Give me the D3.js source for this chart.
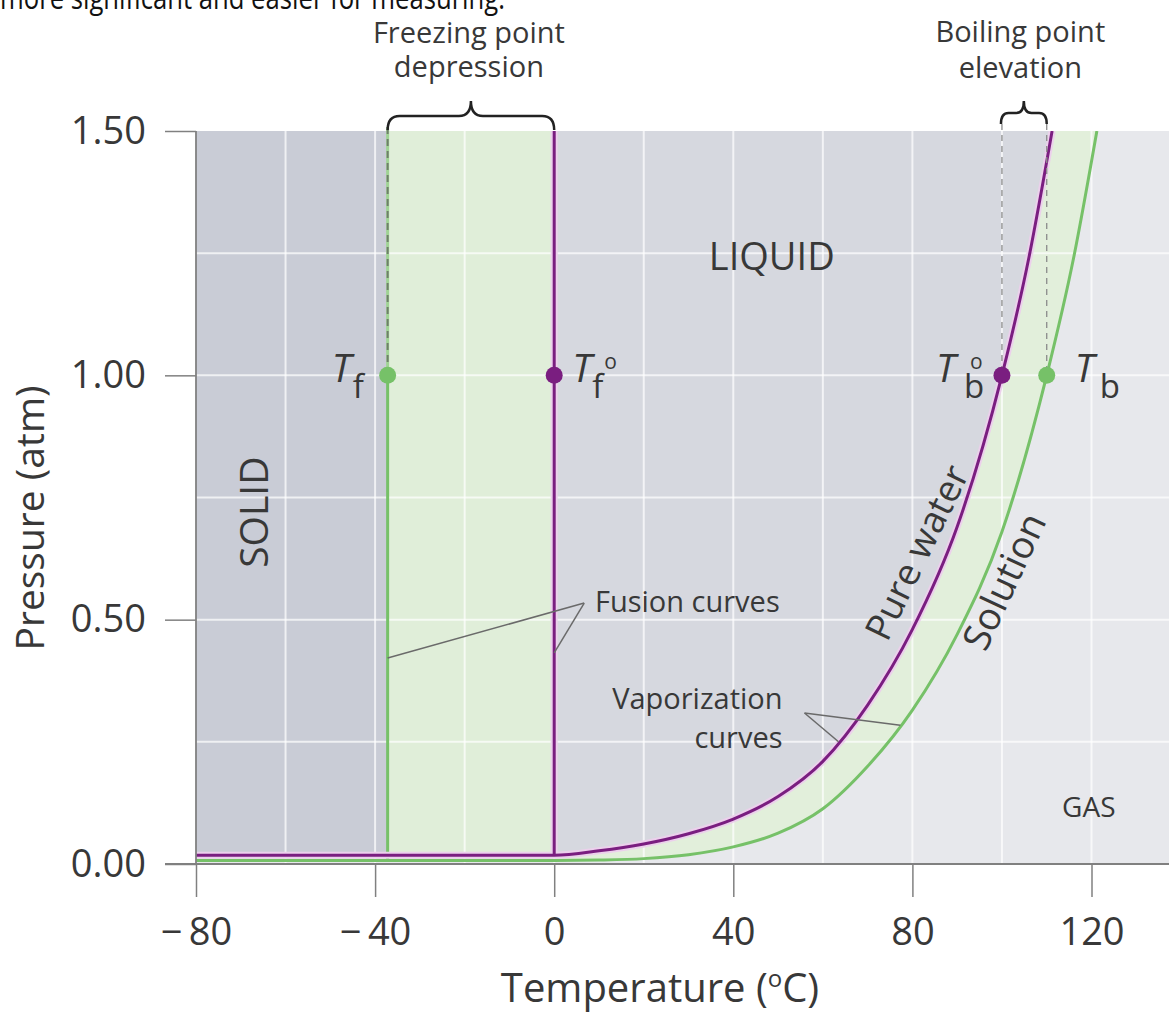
<!DOCTYPE html>
<html><head><meta charset="utf-8">
<script src="https://cdnjs.cloudflare.com/ajax/libs/d3/7.8.5/d3.min.js"></script>
<style>
html,body{margin:0;padding:0;background:#fff;overflow:hidden;}
svg{display:block;}
text{font-family:"Open Sans",sans-serif;fill:#383838;}
</style></head><body>
<svg id="chart" width="1169" height="1014"></svg>
<script>
// ---------- data ----------
const pureT = [-80, 0, 10, 20, 30, 40, 50, 60, 70, 80, 90, 100, 106, 111.2];
const pureP = [0.018, 0.018, 0.027, 0.041, 0.062, 0.092, 0.138, 0.21, 0.325, 0.48, 0.69, 1.0, 1.24, 1.5];
const solT  = [-80, 0, 10, 20, 30, 40, 50, 60, 70, 80, 90, 100, 110, 116, 121.2];
const solP  = [0.007, 0.007, 0.008, 0.011, 0.019, 0.035, 0.063, 0.113, 0.2, 0.315, 0.47, 0.68, 1.0, 1.24, 1.5];
const freezePure = 0;      // Tf°
const freezeSol = -37.2;   // Tf
const boilPure = 100;      // Tb°
const boilSol = 110;       // Tb
const refPressure = 1.0;
const xTicks = [-80, -40, 0, 40, 80, 120];
const yTicks = [0, 0.5, 1.0, 1.5];
const xGrid = [-60, -40, -20, 0, 20, 40, 60, 80, 100, 120];
const yGrid = [0.25, 0.5, 0.75, 1.0, 1.25];

// ---------- setup ----------
const W = 1169, H = 1014;
const svg = d3.select("#chart");
const x = d3.scaleLinear().domain([-80, 120]).range([196, 1091.5]);
const y = d3.scaleLinear().domain([0, 1.5]).range([864, 131]);
const tMin = -80, pMax = 1.5;

const pure = pureT.map((t, i) => ({t, p: pureP[i]}));
const sol = solT.map((t, i) => ({t, p: solP[i]}));
const pureAt = d3.scaleLinear().domain(pureT).range(pureP);
const solAt = d3.scaleLinear().domain(solT).range(solP);

const defs = svg.append("defs");
defs.append("clipPath").attr("id", "plot").append("rect")
  .attr("x", x(tMin)).attr("y", y(pMax)).attr("width", W - x(tMin)).attr("height", y(0) - y(pMax));

const plot = svg.append("g").attr("clip-path", "url(#plot)");

// gas background
plot.append("rect").attr("x", x(tMin)).attr("y", y(pMax))
  .attr("width", W - x(tMin)).attr("height", y(0) - y(pMax)).attr("fill", "#e7e8ec");

const curve = d3.curveMonotoneX;
const areaAbove = d3.area().x(d => x(d.t)).y0(y(pMax)).y1(d => y(d.p)).curve(curve);
plot.append("path").datum(sol).attr("d", areaAbove).attr("fill", "#e2efdb");
plot.append("path").datum(pure).attr("d", areaAbove).attr("fill", "#d6d8df");
plot.append("rect").attr("x", x(tMin)).attr("y", y(pMax))
  .attr("width", x(freezeSol) - x(tMin)).attr("height", y(pureP[0]) - y(pMax)).attr("fill", "#c9ccd6");
plot.append("rect").attr("x", x(freezeSol)).attr("y", y(pMax))
  .attr("width", x(freezePure) - x(freezeSol)).attr("height", y(pureP[0]) - y(pMax)).attr("fill", "#e0eed9");

// grid
plot.append("g").selectAll("line").data(xGrid).join("line")
  .attr("x1", d => x(d)).attr("x2", d => x(d)).attr("y1", y(pMax)).attr("y2", y(0))
  .attr("stroke", "#fff").attr("stroke-opacity", 0.7).attr("stroke-width", 2);
plot.append("g").selectAll("line").data(yGrid).join("line")
  .attr("x1", x(tMin)).attr("x2", W).attr("y1", d => y(d)).attr("y2", d => y(d))
  .attr("stroke", "#fff").attr("stroke-opacity", 0.7).attr("stroke-width", 2);

const line = d3.line().x(d => x(d.t)).y(d => y(d.p)).curve(curve);
const purple = "#7a1e80", green = "#76c168";

// solution curves (green)
plot.append("path").datum(sol).attr("d", line).attr("fill", "none").attr("stroke", green).attr("stroke-width", 3);
plot.append("line").attr("x1", x(freezeSol)).attr("x2", x(freezeSol))
  .attr("y1", y(solP[0])).attr("y2", y(refPressure)).attr("stroke", green).attr("stroke-width", 3);
svg.append("line").attr("x1", x(freezeSol)).attr("x2", x(freezeSol))
  .attr("y1", y(pMax) - 4).attr("y2", y(refPressure)).attr("stroke", "#9fd394").attr("stroke-width", 3);
svg.append("line").attr("x1", x(freezeSol)).attr("x2", x(freezeSol))
  .attr("y1", y(pMax) - 4).attr("y2", y(refPressure)).attr("stroke", "#6e7f69").attr("stroke-width", 2)
  .attr("stroke-dasharray", "7,5");

// pure water curves (purple) with halo
const pureFusion = [{t: freezePure, p: pureP[0]}, {t: freezePure, p: pMax}];
const straight = d3.line().x(d => x(d.t)).y(d => y(d.p));
[["#ecd0ec", 7], [purple, 3]].forEach(([c, w]) => {
  plot.append("path").datum(pure).attr("d", line).attr("fill", "none").attr("stroke", c).attr("stroke-width", w);
  plot.append("path").datum(pureFusion).attr("d", straight).attr("fill", "none").attr("stroke", c).attr("stroke-width", w);
});

// boiling-point dashed guides
[boilPure, boilSol].forEach(t => {
  svg.append("line").attr("x1", x(t)).attr("x2", x(t)).attr("y1", 124).attr("y2", y(refPressure))
    .attr("stroke", "#8a8a8a").attr("stroke-width", 1.3).attr("stroke-dasharray", "6,5");
});

// points
[[freezeSol, green], [freezePure, purple], [boilPure, purple], [boilSol, green]].forEach(([t, c]) => {
  svg.append("circle").attr("cx", x(t)).attr("cy", y(refPressure)).attr("r", 8.5).attr("fill", c);
});

// ---------- axes ----------
const axisColor = "#808080";
const gx = svg.append("g").attr("transform", `translate(0,${y(0)})`)
  .call(d3.axisBottom(x).tickValues(xTicks).tickSize(33).tickPadding(21)
    .tickFormat(d => d < 0 ? "\u2212\u2009" + Math.abs(d) : String(d)));
gx.select(".domain").remove();
gx.selectAll("line").attr("stroke", axisColor).attr("stroke-width", 1.5);
gx.selectAll("text").attr("font-size", 38);

const gy = svg.append("g").attr("transform", `translate(${x(tMin)},0)`)
  .call(d3.axisLeft(y).tickValues(yTicks).tickSize(31).tickPadding(19).tickFormat(d3.format(".2f")));
gy.select(".domain").remove();
gy.selectAll("line").attr("stroke", axisColor).attr("stroke-width", 1.5);
gy.selectAll("text").attr("font-size", 38);

svg.append("line").attr("x1", x(tMin) - 31).attr("x2", W).attr("y1", y(0)).attr("y2", y(0))
  .attr("stroke", axisColor).attr("stroke-width", 1.8);
svg.append("line").attr("x1", x(tMin)).attr("x2", x(tMin)).attr("y1", y(pMax)).attr("y2", y(0))
  .attr("stroke", axisColor).attr("stroke-width", 1.8);

// axis titles
const xt = svg.append("text").attr("x", 660).attr("y", 1002).attr("text-anchor", "middle").attr("font-size", 40);
xt.append("tspan").text("Temperature (");
xt.append("tspan").text("o").attr("font-size", 24).attr("dy", -15);
xt.append("tspan").text("C)").attr("dy", 15);

svg.append("text").attr("transform", "translate(44,518) rotate(-90)").attr("text-anchor", "middle")
  .attr("font-size", 39).text("Pressure (atm)");

// ---------- annotations ----------
const txt = (tx, ty, s, size, anchor = "start") =>
  svg.append("text").attr("x", tx).attr("y", ty).attr("font-size", size).attr("text-anchor", anchor).text(s);

// cropped page text at the very top
svg.append("text").attr("x", 0).attr("y", 9).attr("font-size", 31)
  .attr("textLength", 505).attr("lengthAdjust", "spacingAndGlyphs")
  .style("fill", "#111").text("more significant and easier for measuring.");

// header labels
const fMid = (x(freezeSol) + x(freezePure)) / 2 - 2, bMid = (x(boilPure) + x(boilSol)) / 2 - 4;
txt(fMid, 43, "Freezing point", 29, "middle");
txt(fMid, 77, "depression", 29, "middle");
txt(bMid, 42, "Boiling point", 29, "middle");
txt(bMid, 78, "elevation", 29, "middle");

// braces
function brace(x1, x2, yTop, yArm, yEnd) {
  const m = (x1 + x2) / 2, r = Math.min(12, (x2 - x1) / 6);
  return `M${x1},${yEnd} Q${x1},${yArm} ${x1 + r},${yArm} L${m - r},${yArm} Q${m},${yArm} ${m},${yTop}` +
         ` Q${m},${yArm} ${m + r},${yArm} L${x2 - r},${yArm} Q${x2},${yArm} ${x2},${yEnd}`;
}
svg.append("path").attr("d", brace(x(freezeSol), x(freezePure), 101, 116, 130))
  .attr("fill", "none").attr("stroke", "#222").attr("stroke-width", 2.5);
svg.append("path").attr("d", brace(x(boilPure) - 1, x(boilSol), 101, 113, 124))
  .attr("fill", "none").attr("stroke", "#222").attr("stroke-width", 2.5);

// region labels
txt(x(48.6), y(1.2155), "LIQUID", 38, "middle");
svg.append("text").attr("transform", `translate(${x(-64)},${y(0.72)}) rotate(-90)`)
  .attr("text-anchor", "middle").attr("font-size", 39).text("SOLID");
txt(x(119.4), y(0.096), "GAS", 28, "middle");

// curve labels
svg.append("text").attr("transform", `translate(${x(83.6)},${y(0.626)}) rotate(-64)`)
  .attr("text-anchor", "middle").attr("font-size", 37).text("Pure water");
svg.append("text").attr("transform", `translate(${x(103.2)},${y(0.567)}) rotate(-65)`)
  .attr("text-anchor", "middle").attr("font-size", 38).text("Solution");

// T labels
const yRef = y(refPressure);
function tLabel(cx, dxT, sub, dxS, sup, dxO) {
  svg.append("text").attr("x", cx + dxT).attr("y", yRef + 7).attr("font-size", 39)
    .attr("font-style", "italic").text("T");
  svg.append("text").attr("x", cx + dxS).attr("y", yRef + 23).attr("font-size", 33).text(sub);
  if (sup) svg.append("text").attr("x", cx + dxO).attr("y", yRef - 6).attr("font-size", 21).text("o");
}
tLabel(x(freezeSol), -56, "f", -35, false, 0);
tLabel(x(freezePure), 18, "f", 38, true, 50);
tLabel(x(boilPure), -66, "b", -38, true, -32);
tLabel(x(boilSol), 28, "b", 53, false, 0);

// Fusion curves pointer
const ptr = "#6a6a6a";
const fApex = [6.7, 0.534];
[[freezeSol, 0.4215], [freezePure, 0.432]].forEach(([t, p]) => {
  svg.append("line").attr("x1", x(fApex[0])).attr("y1", y(fApex[1])).attr("x2", x(t)).attr("y2", y(p))
    .attr("stroke", ptr).attr("stroke-width", 1.5);
});
txt(x(9.1), y(0.516), "Fusion curves", 29);

// Vaporization curves pointer
const vApex = [55.9, 0.309];
[[63.5, pureAt(63.5)], [77.3, solAt(77.3)]].forEach(([t, p]) => {
  svg.append("line").attr("x1", x(vApex[0])).attr("y1", y(vApex[1])).attr("x2", x(t)).attr("y2", y(p))
    .attr("stroke", ptr).attr("stroke-width", 1.5);
});
txt(x(51), y(0.317), "Vaporization", 29, "end");
txt(x(51), y(0.237), "curves", 29, "end");
</script>
</body></html>
